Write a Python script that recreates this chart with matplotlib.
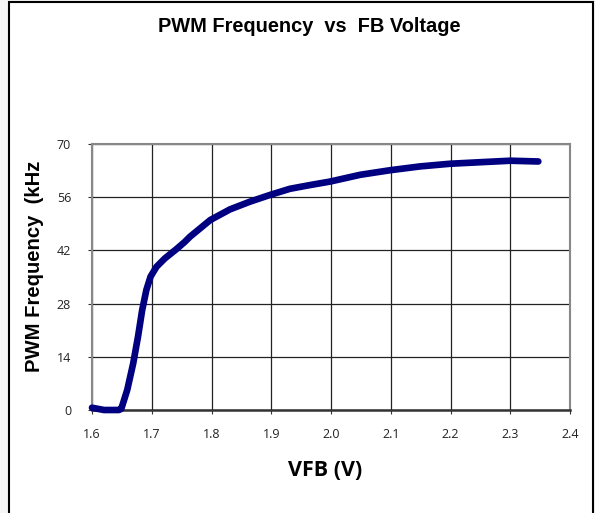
import matplotlib
matplotlib.use("Agg")
import matplotlib.pyplot as plt
from matplotlib.patches import Rectangle
import numpy as np

vfb = [1.600, 1.620, 1.645, 1.649, 1.659, 1.669, 1.677, 1.684, 1.691, 1.698, 1.708,
       1.722, 1.741, 1.755, 1.764, 1.798, 1.831, 1.864, 1.898, 1.931, 1.965, 1.998,
       2.032, 2.049, 2.099, 2.149, 2.199, 2.249, 2.300, 2.347]
freq = [0.6, 0.0, 0.0, 0.3, 5.3, 12.3, 19.3, 26.3, 31.6, 35.1, 37.7,
        39.9, 42.3, 44.2, 45.6, 50.0, 52.8, 54.8, 56.6, 58.2, 59.2, 60.1,
        61.3, 61.9, 63.1, 64.1, 64.8, 65.2, 65.6, 65.4]
xticks = [1.6, 1.7, 1.8, 1.9, 2.0, 2.1, 2.2, 2.3, 2.4]
yticks = [0, 14, 28, 42, 56, 70]

W, H = 595, 513
fig = plt.figure(figsize=(W/100, H/100), dpi=100, facecolor="#f6f6f6")
fig.patches.append(Rectangle((9/W, -0.02), (593-9)/W, (511)/H + 0.02,
                             transform=fig.transFigure, facecolor="white",
                             edgecolor="black", linewidth=1.5, zorder=-5))

ax = fig.add_axes([92/W, 1-410/H, (570-92)/W, (410-144)/H])
ax.set_zorder(2)
ax.set_facecolor("white")
ax.plot(vfb, freq, color="#000080", linewidth=4.8, solid_capstyle="round",
        solid_joinstyle="round", zorder=3, clip_on=False)
ax.set_xlim(1.6, 2.4)
ax.set_ylim(0, 70)
ax.set_xticks(xticks)
ax.set_xticklabels([f"{v:.1f}" for v in xticks])
ax.set_yticks(yticks)
ax.grid(True, color="#222222", linewidth=0.9)
for s in ["top", "right", "left"]:
    ax.spines[s].set_color("#888888")
    ax.spines[s].set_linewidth(1.5)
ax.spines["bottom"].set_color("#333333")
ax.spines["bottom"].set_linewidth(1.8)
ax.tick_params(axis="both", length=3, color="#333333", labelsize=9,
               labelcolor="#222222")
ax.tick_params(axis="x", pad=10)
ax.tick_params(axis="y", pad=12)
for lab in ax.get_xticklabels() + ax.get_yticklabels():
    lab.set_family("Open Sans")

fig.text(309/W, 1-27/H, "PWM Frequency  vs  FB Voltage", ha="center", va="center",
         fontsize=14.4, fontweight="bold", family="Liberation Sans", zorder=5)
fig.text(35/W, 1-266/H, "PWM Frequency  (kHz", ha="center", va="center", rotation=90,
         fontsize=14.6, fontweight="bold", family="Liberation Sans", zorder=5)
fig.text(325/W, 1-470/H, "VFB (V)", ha="center", va="center",
         fontsize=15.5, fontweight="bold", family="Open Sans", zorder=5)

fig.savefig("out.png", dpi=100, facecolor=fig.get_facecolor())
